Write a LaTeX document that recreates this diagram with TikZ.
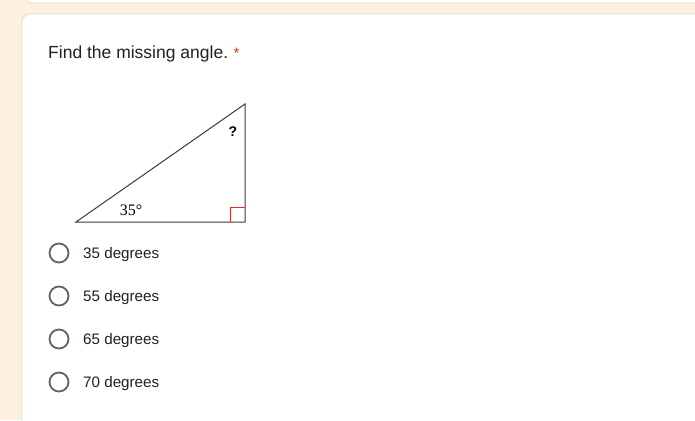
\documentclass[tikz,border=0pt]{standalone}
\usepackage{fontspec}
\setmainfont{Liberation Serif}
\newfontfamily\formfont{Liberation Sans}
\usetikzlibrary{arrows,shapes}
\definecolor{pagebg}{HTML}{FDF0DE}
\definecolor{cardline}{HTML}{E0DCD6}
\definecolor{textgrey}{HTML}{202124}
\definecolor{radiogrey}{HTML}{5F6368}
\definecolor{starred}{HTML}{D93025}
\definecolor{figline}{HTML}{3A3A3A}
\tikzstyle{card}=[fill=white,draw=cardline,line width=0.8pt,rounded corners=8pt]
\tikzstyle{radio}=[circle,draw=radiogrey,line width=1.8pt,minimum size=19pt,inner sep=0pt]
\tikzstyle{choice}=[anchor=base west,inner sep=0pt,font=\formfont\fontsize{15.2}{18}\selectfont,text=textgrey]
\tikzstyle{side}=[draw=figline,line width=1pt]

\begin{document}
\begin{tikzpicture}[x=1pt,y=-1pt]
    % page and cards
    \fill[pagebg] (0,0) rectangle (695,420);
    \useasboundingbox (0,0) rectangle (695,420);
    \path[card] (24,-20) rectangle (720,3);
    \path[card] (22,14) rectangle (720,440);

    % the question
    \node[anchor=base west,inner sep=0pt,font=\formfont\fontsize{17.5}{20}\selectfont,text=textgrey] (question) at (48,59) {Find the missing angle.};
    \node[anchor=base west,inner sep=0pt,font=\formfont\fontsize{15}{18}\selectfont,text=starred] (star) at ([xshift=5pt]question.base east) {*};

    % the triangle
    \coordinate (A) at (76,222);
    \coordinate (B) at (245,222);
    \coordinate (C) at (245,104);
    \path[side] (A) -- (B) -- (C) -- cycle;
    \draw[starred,line width=0.9pt] ([xshift=-15pt]B) -- ++(0,-15) -- ++(15,0);
    \node[font=\fontsize{16}{18}\selectfont] (base angle) at (131,210) {35°};
    \node[font=\formfont\bfseries\fontsize{14}{16}\selectfont] (top angle) at (233,132) {?};

    % the answers
    \foreach \y/\name in {253/35, 296/55, 339/65, 382/70}
    {
        \node[radio] (radio\name) at (59,\y) {};
        \node[choice] (answer\name) at (83,\y+5.5) {\name{} degrees};
    }
\end{tikzpicture}
\end{document}
